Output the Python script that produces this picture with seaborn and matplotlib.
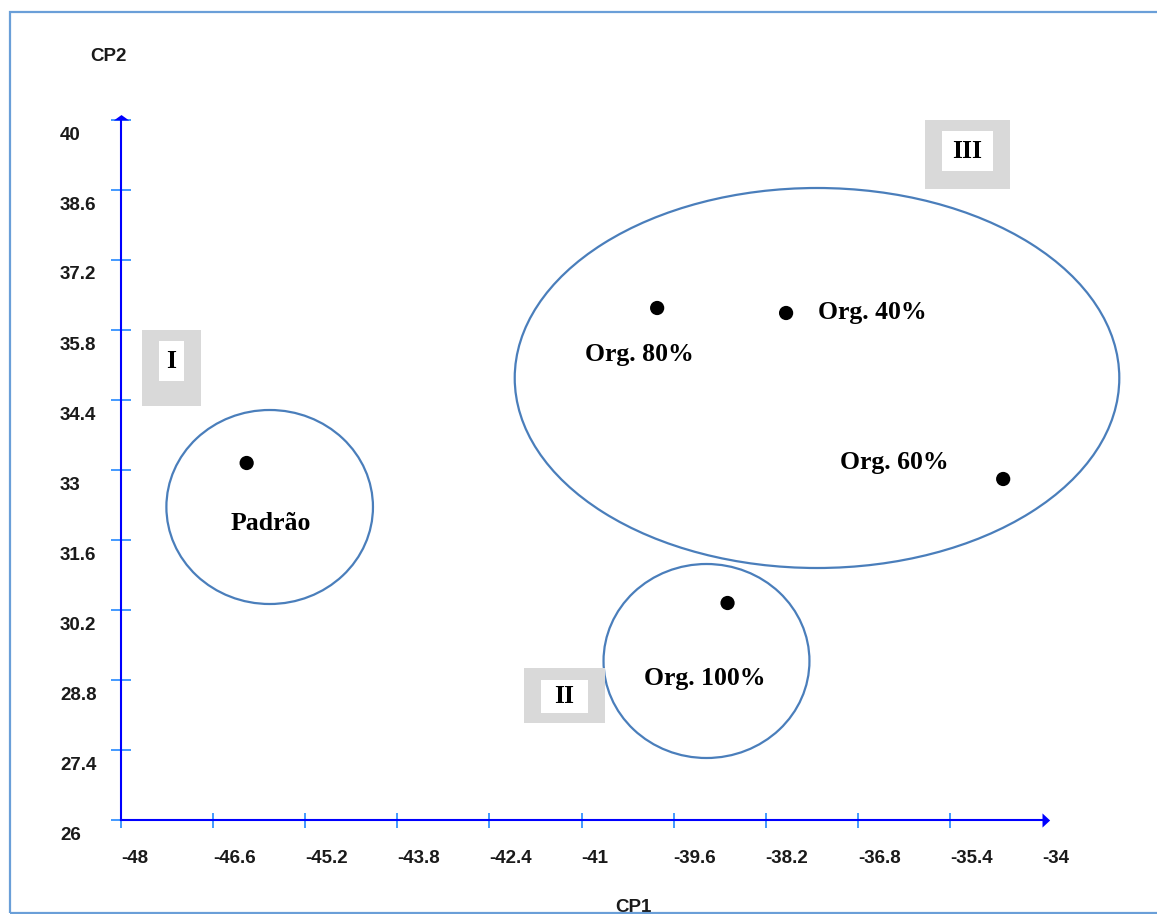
import matplotlib
matplotlib.use("Agg")
import matplotlib.pyplot as plt
import seaborn as sns
import pandas as pd
from matplotlib.patches import Ellipse, Rectangle
from matplotlib.path import Path
from matplotlib.transforms import ScaledTranslation

# Principal component scores of each treatment
treatments = ["Padrão", "Org. 40%", "Org. 60%", "Org. 80%", "Org. 100%"]
cp1 = [-46.09, -37.89, -34.59, -39.85, -38.78]
cp2 = [33.14, 36.14, 32.82, 36.24, 30.34]

x_ticks = [-48, -46.6, -45.2, -43.8, -42.4, -41, -39.6, -38.2, -36.8, -35.4, -34]
y_ticks = [26, 27.4, 28.8, 30.2, 31.6, 33, 34.4, 35.8, 37.2, 38.6, 40]
group_names = ["I", "II", "III"]

W, H, DPI = 1157, 914, 100
sns.set_theme(style="white")
plt.rcParams["font.family"] = ["Liberation Sans", "DejaVu Sans"]
plt.rcParams["axes.unicode_minus"] = False

fig = plt.figure(figsize=(W / DPI, H / DPI), dpi=DPI)
fig.patch.set_facecolor("white")


def px_rect(x0, y0, x1, y1):
    """Pixel box (origin top-left) -> figure-fraction [left, bottom, width, height]."""
    return [x0 / W, 1 - y1 / H, (x1 - x0) / W, (y1 - y0) / H]


# outer frame
l, b, w, h = px_rect(10, 12, 1175, 913)
fig.add_artist(Rectangle((l, b), w, h, transform=fig.transFigure, fill=False,
                         edgecolor="#6A9FD8", lw=1.6))

ax = fig.add_axes(px_rect(121, 120, 1042, 820))
ax.set_facecolor("none")

df = pd.DataFrame({"CP1": cp1, "CP2": cp2, "Tratamento": treatments})
sns.scatterplot(data=df, x="CP1", y="CP2", color="black", s=105,
                edgecolor="none", ax=ax, zorder=5, clip_on=False, legend=False)

ax.set_xlim(x_ticks[0], x_ticks[-1])
ax.set_ylim(y_ticks[0], y_ticks[-1])

# axes drawn as blue arrows
for side in ["top", "right"]:
    ax.spines[side].set_visible(False)
for side in ["left", "bottom"]:
    ax.spines[side].set_color("#0000FF")
    ax.spines[side].set_linewidth(1.5)

right_head = Path([(0, -6.5), (7, 0), (0, 6.5), (0, -6.5)],
                  [Path.MOVETO, Path.LINETO, Path.LINETO, Path.CLOSEPOLY])
up_head = Path([(-7, 0), (7, 0), (0, 5), (-7, 0)],
               [Path.MOVETO, Path.LINETO, Path.LINETO, Path.CLOSEPOLY])
ax.plot([x_ticks[-1]], [y_ticks[0]], marker=right_head, ms=11, color="#0000FF",
        mew=0, clip_on=False, zorder=6)
ax.plot([x_ticks[0]], [y_ticks[-1]], marker=up_head, ms=11, color="#0000FF",
        mew=0, clip_on=False, zorder=6)

# ticks and tick labels
ax.set_xticks(x_ticks)
ax.set_xticklabels([f"{v:g}" for v in x_ticks])
ax.set_yticks(y_ticks)
ax.set_yticklabels([f"{v:g}" for v in y_ticks])
ax.tick_params(axis="y", left=True, direction="inout", length=14.4, width=1.2,
               color="#2288FF", pad=36.7, labelsize=13.5, labelcolor="#1a1a1a")
ax.tick_params(axis="x", bottom=True, direction="inout", length=10.8, width=1.2,
               color="#2288FF", pad=22, labelsize=13.5, labelcolor="#1a1a1a")
ax.xaxis.get_major_ticks()[-1].tick1line.set_visible(False)

shift_down = ScaledTranslation(0, -0.13, fig.dpi_scale_trans)
for lab in ax.get_yticklabels():
    lab.set_ha("left")
    lab.set_fontweight("bold")
    lab.set_transform(lab.get_transform() + shift_down)
for lab in ax.get_xticklabels():
    lab.set_ha("left")
    lab.set_va("center")
    lab.set_fontweight("bold")

ax.set_xlabel("CP1", fontsize=13.5, fontweight="bold", color="#1a1a1a")
ax.set_ylabel("CP2", fontsize=13.5, fontweight="bold", color="#1a1a1a", rotation=0)
ax.xaxis.set_label_coords(0.556, -0.125)
ax.xaxis.label.set_va("center")
ax.yaxis.set_label_coords(-0.0141, 1.091)
ax.yaxis.label.set_va("center")
ax.yaxis.label.set_ha("center")

# cluster outlines
clusters = [((-45.74, 32.26), 3.14, 3.88),
            ((-39.10, 29.18), 3.13, 3.88),
            ((-37.42, 34.84), 9.19, 7.60)]
for center, cw, ch in clusters:
    ax.add_patch(Ellipse(center, cw, ch, fill=False, edgecolor="#4A7EBB",
                         lw=1.6, clip_on=False, zorder=3))

# treatment labels
serif_bold = dict(family=["Liberation Serif", "DejaVu Serif"], fontweight="bold",
                  fontsize=18.5, color="black")
label_offsets = {"Padrão": (24, -61), "Org. 40%": (86, 0), "Org. 60%": (-109, 16),
                 "Org. 80%": (-18, -46), "Org. 100%": (-23, -75)}
for name, x, y in zip(treatments, cp1, cp2):
    dx, dy = label_offsets[name]
    ax.annotate(name, (x, y), xytext=(dx, dy), textcoords="offset pixels",
                ha="center", va="center", zorder=6, **serif_bold)

# cluster tags: grey frame with white inner box
tag_boxes = {"I": ((142, 330, 201, 406), (159, 341, 184, 381)),
             "II": ((524, 668, 605, 723), (541, 680, 588, 713)),
             "III": ((925, 120, 1010, 189), (942, 131, 993, 171))}
for name in group_names:
    outer, inner = tag_boxes[name]
    for box, col in [(outer, "#D9D9D9"), (inner, "white")]:
        l, b, w, h = px_rect(*box)
        fig.add_artist(Rectangle((l, b), w, h, transform=fig.transFigure,
                                 facecolor=col, edgecolor="none"))
    cx = (inner[0] + inner[2]) / 2 / W
    cy = 1 - (inner[1] + inner[3]) / 2 / H
    fig.text(cx, cy, name, ha="center", va="center", **serif_bold)

fig.savefig("out.png", dpi=DPI)
